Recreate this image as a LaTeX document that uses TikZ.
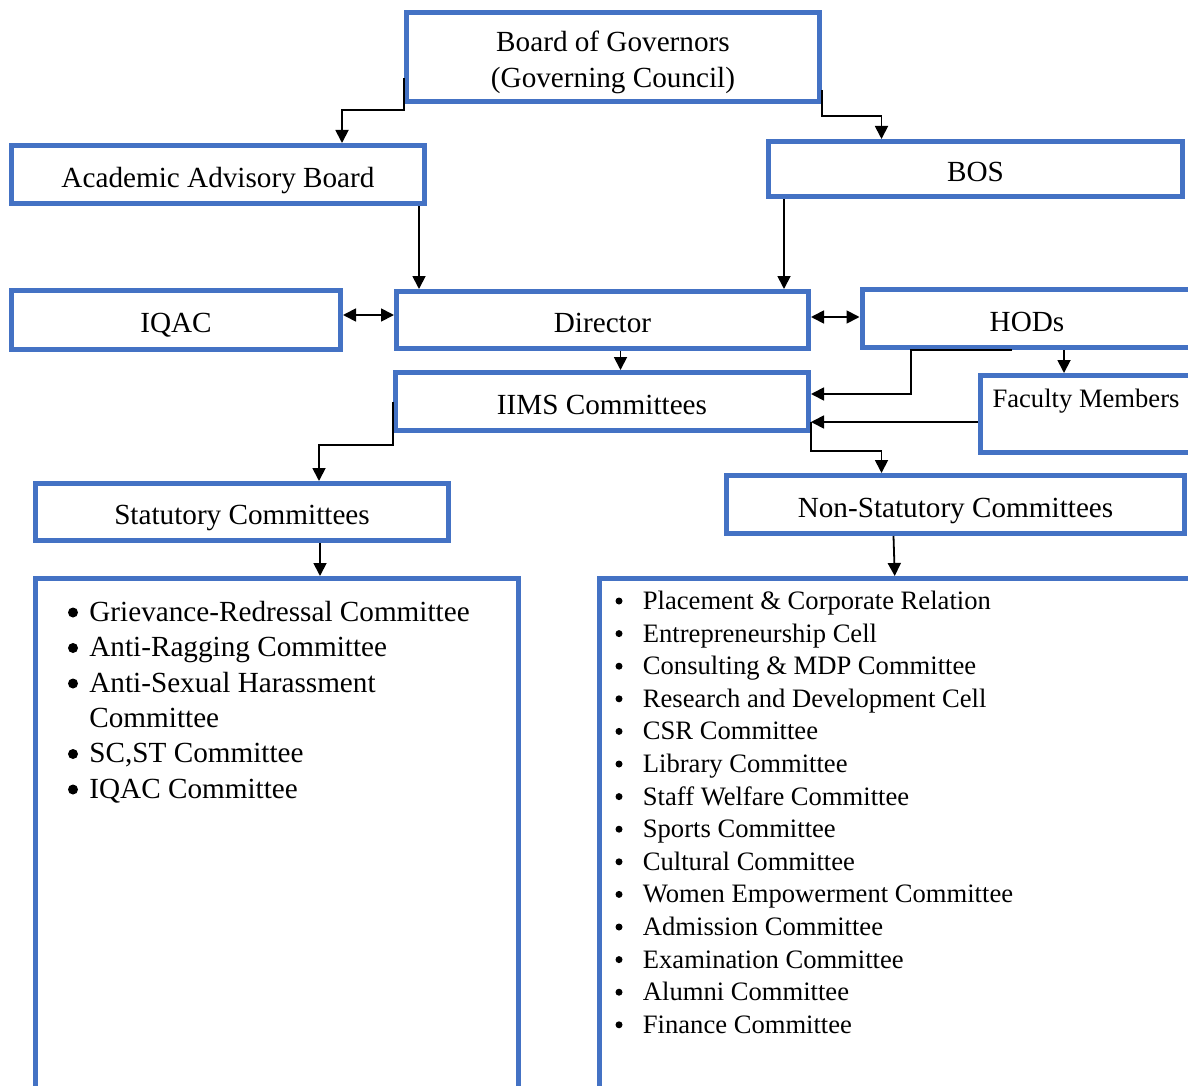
\documentclass[tikz,border=0pt]{standalone}
\usepackage{fontspec}
\setmainfont{Liberation Serif}
\usepackage{xcolor}
\usetikzlibrary{arrows.meta,positioning,calc}

\definecolor{boxblue}{HTML}{4472C4}

\begin{document}
\begin{tikzpicture}[x=0.5pt,y=-0.5pt,
        unitbox/.style={draw=boxblue,line width=2.5pt,inner sep=0pt,fill=white,
            font=\fontsize{14.6}{18}\selectfont},
        oneline/.style={text height=12.5pt,text depth=0pt},
        conn/.style={-{Triangle[length=6.5pt,width=6.5pt]},line width=0.9pt,black},
        biconn/.style={{Triangle[length=6.5pt,width=6.5pt]}-{Triangle[length=6.5pt,width=6.5pt]},line width=0.9pt,black},
        bigitem/.style={anchor=base west,inner sep=0pt,font=\fontsize{14.6}{18}\selectfont},
        smallitem/.style={anchor=base west,inner sep=0pt,font=\fontsize{13.3}{16}\selectfont}]
        \useasboundingbox (0,0) rectangle (1188,1086);

        % Top level
        \node[unitbox,minimum width=206.5pt,minimum height=44.5pt,align=center,
            text height=30.6pt,text depth=0pt] (gov) at (613,57)
            {Board of Governors\\(Governing Council)};
        \node[unitbox,oneline,minimum width=206.5pt,minimum height=29pt] (aab) at (218,174.5) {Academic Advisory Board};
        \node[unitbox,oneline,minimum width=207pt,minimum height=27.5pt] (bos) at (975.5,169) {BOS};

        % Director row
        \node[unitbox,oneline,minimum width=164.5pt,minimum height=29.5pt] (iqac) at (176,320) {IQAC};
        \node[unitbox,oneline,minimum width=206pt,minimum height=28.5pt] (dir) at (602.5,320) {Director};
        \node[unitbox,oneline,minimum width=165pt,minimum height=29pt] (hods) at (1027,318.5) {HODs};
        \node[unitbox,minimum width=106pt,minimum height=38.5pt,align=center,
            font=\fontsize{13.3}{16}\selectfont] (fac) at (1086,414) {Faculty Members\\\mbox{}};

        % Committees
        \node[unitbox,oneline,minimum width=206.5pt,minimum height=29pt] (iims) at (602,401.5) {IIMS Committees};
        \node[unitbox,oneline,minimum width=206.5pt,minimum height=28.5pt] (stat) at (242,512) {Statutory Committees};
        \node[unitbox,oneline,minimum width=229pt,minimum height=29pt] (nstat) at (955.5,504.5) {Non-Statutory Committees};

        % List boxes (open at the bottom edge)
        \node[unitbox,minimum width=241.5pt,minimum height=260.75pt] (slist) at (277,839.25) {};
        \node[unitbox,minimum width=300.25pt,minimum height=260.75pt] (nlist) at (899.75,839.25) {};

        % Connectors
        \draw[conn] ([yshift=13pt]gov.south west) -- ([yshift=-3pt]gov.south west) -| ([xshift=62pt]aab.north);
        \draw[conn] ([yshift=7pt]gov.south east) -- ([yshift=-6pt]gov.south east) -| ([xshift=-47pt]bos.north);
        \draw[conn] ([xshift=-4pt]aab.south east) -- ([xshift=-4pt]aab.south east |- dir.north);
        \draw[conn] ([xshift=9pt]bos.south west) -- ([xshift=9pt]bos.south west |- dir.north);
        \draw[biconn] ([yshift=2.5pt]iqac.east) -- ([yshift=2.5pt]dir.west);
        \draw[biconn] ([yshift=1.5pt]dir.east) -- ([yshift=1.5pt]dir.east -| hods.west);
        \draw[conn] ([xshift=9pt]dir.south) -- ([xshift=9pt]dir.south |- iims.north);
        \draw[conn] ([xshift=18.5pt]hods.south) -- ([xshift=18.5pt]hods.south |- fac.north);
        \draw[conn] ([xshift=-7.5pt]hods.south) -- ++(-50.5pt,0) |- ([yshift=3.75pt]iims.east);
        \draw[conn] ([yshift=-4pt]fac.west) -- ([yshift=-4pt]fac.west -| iims.east);
        \draw[conn] ([yshift=-10pt]iims.east) -- ([yshift=-9pt]iims.south east) -| ([xshift=-37pt]nstat.north);
        \draw[conn] (iims.west) -- ([yshift=-6pt]iims.south west) -| ([xshift=38.5pt]stat.north);
        \draw[conn] ([xshift=39pt]stat.south) -- ([xshift=39pt]stat.south |- slist.north);
        \draw[conn] ([xshift=-31pt]nstat.south) -- ([xshift=-2.5pt]nlist.north);

        % Statutory list
        \foreach \yb/\txt in {621/Grievance-Redressal Committee,656.5/Anti-Ragging Committee,
            692/Anti-Sexual Harassment,762.5/{SC,ST Committee},798/IQAC Committee} {
            \fill (73,\yb-8.5) circle (2.5pt);
            \node[bigitem] at (89,\yb) {\txt};
        }
        \node[bigitem] at (89,727) {Committee};

        % Non-statutory list
        \foreach \txt [count=\i from 0] in {Placement \& Corporate Relation,Entrepreneurship Cell,
            Consulting \& MDP Committee,Research and Development Cell,CSR Committee,
            Library Committee,Staff Welfare Committee,Sports Committee,Cultural Committee,
            Women Empowerment Committee,Admission Committee,Examination Committee,
            Alumni Committee,Finance Committee} {
            \fill (619,601+32.6*\i) circle (1.75pt);
            \node[smallitem] at (642.5,609.5+32.6*\i) {\txt};
        }

    \end{tikzpicture}
\end{document}
